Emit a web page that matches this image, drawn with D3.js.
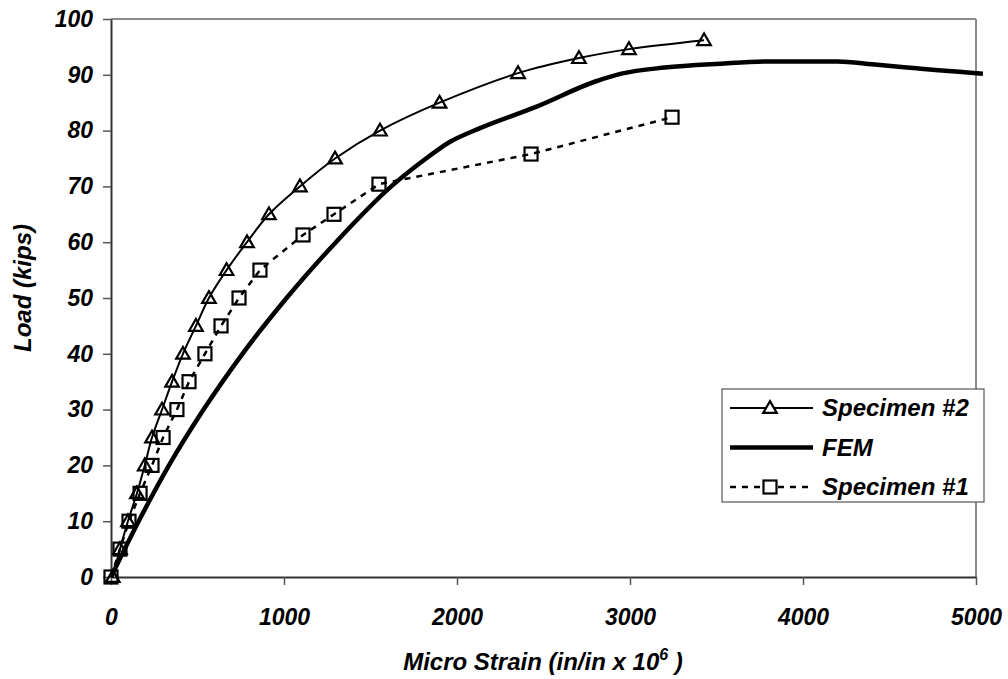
<!DOCTYPE html>
<html lang="en">
<head>
<meta charset="UTF-8">
<title>Load vs Micro Strain</title>
<script src="https://d3js.org/d3.v7.min.js"></script>
<style>
  body { margin: 0; background: #fff; }
  text { font-family: "Liberation Sans", Arial, sans-serif; font-weight: bold; font-style: italic; fill: #000; }
</style>
</head>
<body>
<svg id="chart" width="1008" height="679"></svg>
<script>
  // Specimen #2 (triangles, smoothed solid line)
  var spec2Strain = [10, 52, 98, 150, 195, 237, 295, 353, 416, 491, 566, 668, 786, 913, 1092, 1295, 1555, 1899, 2353, 2705, 2994, 3428];
  var spec2Load   = [0, 5, 10, 15, 20, 25, 30, 35, 40, 45, 50, 55, 60, 65, 70, 75, 80, 85, 90.3, 93.0, 94.6, 96.2];

  // FEM (thick solid line)
  var femStrain = [0, 160, 335, 535, 760, 1015, 1300, 1620, 1800, 1960, 2130, 2460, 2800, 2950, 3200, 3520, 3800, 4200, 4400, 4600, 5040];
  var femLoad   = [0, 10, 20, 30, 40, 50, 60, 70, 74.5, 78, 80.4, 84.3, 88.8, 90.2, 91.3, 92.0, 92.4, 92.4, 91.9, 91.3, 90.2];

  // Specimen #1 (squares, dashed line)
  var spec1Strain = [0, 52, 104, 168, 237, 301, 381, 451, 543, 636, 740, 861, 1110, 1289, 1549, 2428, 3243];
  var spec1Load   = [0, 5, 10, 15, 20, 25, 30, 35, 40, 45, 50, 55, 61.3, 65, 70.4, 75.8, 82.4];

  var xTicks = [0, 1000, 2000, 3000, 4000, 5000];
  var yTicks = [0, 10, 20, 30, 40, 50, 60, 70, 80, 90, 100];

  var svg = d3.select("#chart"),
      pLeft = 111, pRight = 976, pTop = 19, pBottom = 577;

  var x = d3.scaleLinear().domain([0, 5000]).range([pLeft, pRight]);
  var y = d3.scaleLinear().domain([0, 100]).range([pBottom, pTop]);

  function zipPts(xs, ys) { return xs.map(function (v, i) { return [v, ys[i]]; }); }
  var spec2 = zipPts(spec2Strain, spec2Load),
      fem = zipPts(femStrain, femLoad),
      spec1 = zipPts(spec1Strain, spec1Load);

  // frame: top and right in grey
  svg.append("line").attr("x1", pLeft).attr("x2", pRight).attr("y1", pTop).attr("y2", pTop)
     .attr("stroke", "#8c8c8c").attr("stroke-width", 2);
  svg.append("line").attr("x1", pRight).attr("x2", pRight).attr("y1", pTop).attr("y2", pBottom)
     .attr("stroke", "#8c8c8c").attr("stroke-width", 2);

  // axes
  var xAxis = svg.append("g").attr("transform", "translate(0," + pBottom + ")")
     .call(d3.axisBottom(x).tickValues(xTicks).tickSize(8).tickSizeOuter(0).tickPadding(24).tickFormat(d3.format("d")));
  var yAxis = svg.append("g").attr("transform", "translate(" + pLeft + ",0)")
     .call(d3.axisLeft(y).tickValues(yTicks).tickSize(8).tickSizeOuter(0).tickPadding(10).tickFormat(d3.format("d")));
  [xAxis, yAxis].forEach(function (g) {
    g.select(".domain").attr("stroke", "#333").attr("stroke-width", 2);
    g.selectAll(".tick line").attr("stroke", "#555").attr("stroke-width", 1.5);
    g.selectAll(".tick text").style("font-size", "23px").attr("fill", "#000");
  });

  // lines
  var lineSmooth = d3.line().x(function (d) { return x(d[0]); }).y(function (d) { return y(d[1]); })
                     .curve(d3.curveCatmullRom.alpha(0.5));
  var lineFem = d3.line().x(function (d) { return x(d[0]); }).y(function (d) { return y(d[1]); })
                     .curve(d3.curveMonotoneX);
  var lineStraight = d3.line().x(function (d) { return x(d[0]); }).y(function (d) { return y(d[1]); });

  svg.append("path").datum(fem).attr("d", lineFem)
     .attr("fill", "none").attr("stroke", "#000").attr("stroke-width", 4.5);
  svg.append("path").datum(spec1).attr("d", lineStraight)
     .attr("fill", "none").attr("stroke", "#000").attr("stroke-width", 2.5).attr("stroke-dasharray", "6,6");
  svg.append("path").datum(spec2).attr("d", lineSmooth)
     .attr("fill", "none").attr("stroke", "#000").attr("stroke-width", 2);

  var tri = d3.symbol().type(d3.symbolTriangle).size(80);
  svg.selectAll(".tri").data(spec2).enter().append("path")
     .attr("d", tri)
     .attr("transform", function (d) { return "translate(" + x(d[0]) + "," + (y(d[1]) + 1) + ")"; })
     .attr("fill", "none").attr("stroke", "#000").attr("stroke-width", 2.2);

  svg.selectAll(".sq").data(spec1).enter().append("rect")
     .attr("x", function (d) { return x(d[0]) - 6.5; })
     .attr("y", function (d) { return y(d[1]) - 6.5; })
     .attr("width", 13).attr("height", 13)
     .attr("fill", "none").attr("stroke", "#000").attr("stroke-width", 2.2);

  // axis titles
  svg.append("text").attr("transform", "translate(31," + ((pTop + pBottom) / 2 - 10) + ") rotate(-90)")
     .attr("text-anchor", "middle").style("font-size", "24px").text("Load (kips)");
  var xt = svg.append("text").attr("x", 543).attr("y", 670).attr("text-anchor", "middle").style("font-size", "24px");
  xt.append("tspan").text("Micro Strain (in/in x 10");
  xt.append("tspan").attr("dy", -10).style("font-size", "16px").text("6");
  xt.append("tspan").attr("dy", 10).text(" )");

  // legend
  var leg = svg.append("g").attr("transform", "translate(722,389)");
  leg.append("rect").attr("width", 262).attr("height", 113).attr("fill", "#fff").attr("stroke", "#555").attr("stroke-width", 1.2);
  var items = [
    { name: "Specimen #2", width: 2, dash: null, mark: "tri" },
    { name: "FEM", width: 4.5, dash: null, mark: null },
    { name: "Specimen #1", width: 2.5, dash: "6,6", mark: "sq" }
  ];
  items.forEach(function (it, i) {
    var cy = 19 + i * 39.5;
    leg.append("line").attr("x1", 8).attr("x2", 91).attr("y1", cy).attr("y2", cy)
       .attr("stroke", "#000").attr("stroke-width", it.width).attr("stroke-dasharray", it.dash);
    if (it.mark === "tri") {
      leg.append("path").attr("d", tri).attr("transform", "translate(48," + (cy + 1) + ")")
         .attr("fill", "#fff").attr("stroke", "#000").attr("stroke-width", 2.2);
    } else if (it.mark === "sq") {
      leg.append("rect").attr("x", 41.5).attr("y", cy - 6.5).attr("width", 13).attr("height", 13)
         .attr("fill", "#fff").attr("stroke", "#000").attr("stroke-width", 2.2);
    }
    leg.append("text").attr("x", 100).attr("y", cy + 8).style("font-size", "24px").text(it.name);
  });
</script>
</body>
</html>
